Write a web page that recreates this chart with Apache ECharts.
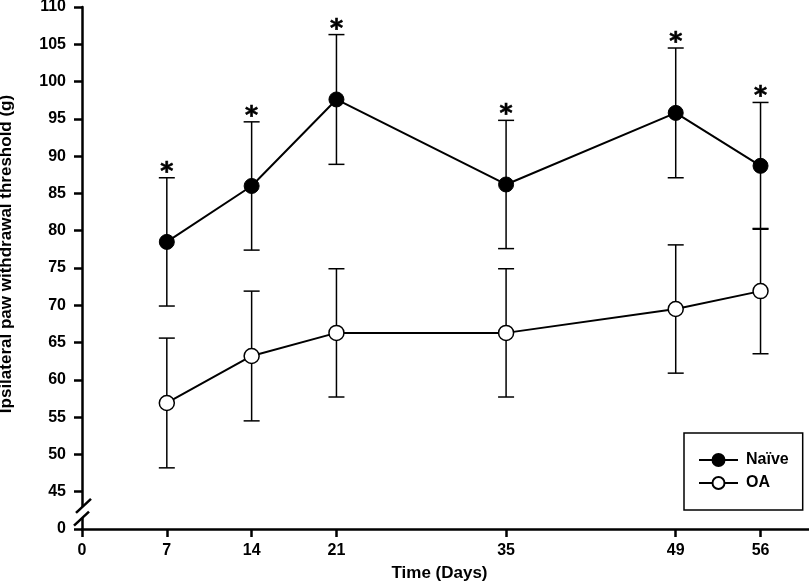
<!DOCTYPE html>
<html>
<head>
<meta charset="utf-8">
<script src="https://cdn.jsdelivr.net/npm/echarts@6/dist/echarts.min.js"></script>
<style>
    html, body { margin: 0; padding: 0; background: #fff; }
    #chart { width: 809px; height: 581px; }
</style>
</head>
<body>
<div id="chart"></div>
<script>
// values (g), mean +/- error
var days = [7, 14, 21, 35, 49, 56];
var naive = [78.5, 86.0, 97.6, 86.2, 95.8, 88.7];
var naiveErr = [8.6, 8.6, 8.7, 8.6, 8.7, 8.5];
var oa = [56.9, 63.2, 66.3, 66.3, 69.5, 71.9];
var oaErr = [8.7, 8.7, 8.6, 8.6, 8.6, 8.4];
var naiveSig = [1, 1, 1, 1, 1, 1];

var xTicks = [0, 7, 14, 21, 35, 49, 56];
var yBreakValue = 40;   // drawn as "0" below the axis break

var FONT = 'Liberation Sans, Arial, sans-serif';

function pairs(xs, ys) {
    return xs.map(function (x, i) { return [x, ys[i]]; });
}

function errorData(xs, ys, errs, sig) {
    return xs.map(function (x, i) {
        return [x, ys[i] - errs[i], ys[i] + errs[i], sig ? sig[i] : 0];
    });
}

function renderErrorBar(params, api) {
    var x = api.value(0);
    var top = api.coord([x, api.value(2)]);
    var bottom = api.coord([x, api.value(1)]);
    var half = 8;
    var style = { stroke: '#000', lineWidth: 1.5 };
    var children = [
        { type: 'line', shape: { x1: top[0], y1: top[1], x2: bottom[0], y2: bottom[1] }, style: style },
        { type: 'line', shape: { x1: top[0] - half, y1: top[1], x2: top[0] + half, y2: top[1] }, style: style },
        { type: 'line', shape: { x1: bottom[0] - half, y1: bottom[1], x2: bottom[0] + half, y2: bottom[1] }, style: style }
    ];
    if (api.value(3)) {
        children.push({
            type: 'text',
            style: {
                text: '*', x: top[0], y: top[1] + 7,
                align: 'center', verticalAlign: 'bottom',
                fill: '#000', stroke: '#000', lineWidth: 0.6,
                font: 'bold 25px DejaVu Sans'
            }
        });
    }
    return { type: 'group', children: children };
}

var axisLine = { show: true, onZero: false, lineStyle: { color: '#000', width: 2.5 } };
var axisTick = { show: true, inside: false, length: 8, lineStyle: { color: '#000', width: 2.5 } };
var labelStyle = { color: '#000', fontFamily: FONT, fontWeight: 'bold', fontSize: 16 };
var titleStyle = { color: '#000', fontFamily: FONT, fontWeight: 'bold', fontSize: 17 };

var chart = echarts.init(document.getElementById('chart'), null, { renderer: 'canvas' });

chart.setOption({
    animation: false,
    backgroundColor: '#fff',
    grid: { left: 82, right: 0, top: 7, bottom: 52, outerBoundsMode: 'none' },
    legend: {
        orient: 'vertical',
        left: 684, top: 433,
        padding: [19, 14, 19, 14],
        itemGap: 7,
        itemWidth: 39, itemHeight: 15,
        borderColor: '#000', borderWidth: 1.5,
        textStyle: Object.assign({ padding: [0, 0, 0, 3] }, labelStyle),
        data: ['Naïve', 'OA']
    },
    xAxis: {
        type: 'value',
        min: 0, max: 60,
        name: 'Time (Days)',
        nameLocation: 'middle',
        nameGap: 36,
        nameTextStyle: Object.assign({ padding: [0, 12, 0, 0] }, titleStyle),
        axisLine: axisLine,
        axisTick: Object.assign({ customValues: xTicks }, axisTick),
        axisLabel: Object.assign({ customValues: xTicks, margin: 14 }, labelStyle),
        splitLine: { show: false }
    },
    yAxis: {
        type: 'value',
        min: yBreakValue, max: 110, interval: 5,
        name: 'Ipsilateral paw withdrawal threshold (g)',
        nameLocation: 'middle',
        nameGap: 67,
        nameTextStyle: Object.assign({ padding: [0, 0, 0, 28] }, titleStyle),
        axisLine: axisLine,
        axisTick: axisTick,
        axisLabel: Object.assign({
            margin: 16,
            formatter: function (v) { return v === yBreakValue ? '0' : String(v); }
        }, labelStyle),
        splitLine: { show: false }
    },
    series: [
        {
            type: 'custom', name: 'naiveErr', z: 1,
            renderItem: renderErrorBar,
            encode: { x: 0, y: [1, 2] },
            data: errorData(days, naive, naiveErr, naiveSig)
        },
        {
            type: 'custom', name: 'oaErr', z: 1,
            renderItem: renderErrorBar,
            encode: { x: 0, y: [1, 2] },
            data: errorData(days, oa, oaErr)
        },
        {
            type: 'line', name: 'Naïve', z: 3,
            data: pairs(days, naive),
            symbol: 'circle', symbolSize: 15,
            lineStyle: { color: '#000', width: 2 },
            itemStyle: { color: '#000', borderColor: '#000', borderWidth: 1 }
        },
        {
            type: 'line', name: 'OA', z: 3,
            data: pairs(days, oa),
            symbol: 'circle', symbolSize: 15,
            lineStyle: { color: '#000', width: 2 },
            itemStyle: { color: '#fff', borderColor: '#000', borderWidth: 1.5 }
        }
    ]
});

// the "//" break on the y axis between 0 and 45
function drawBreak() {
    var a = chart.convertToPixel({ gridIndex: 0 }, [0, 43.1]);
    var b = chart.convertToPixel({ gridIndex: 0 }, [0, 41.4]);
    var dx = 7.5, dy = 7;
    var slash = { stroke: '#000', lineWidth: 2.5 };
    chart.setOption({
        graphic: [
            {
                type: 'polygon', z: 50,
                shape: { points: [
                    [a[0] + 1.5 - dx, a[1] + dy], [a[0] + 1.5 + dx, a[1] - dy],
                    [b[0] - 0.5 + dx, b[1] - dy], [b[0] - 0.5 - dx, b[1] + dy]
                ] },
                style: { fill: '#fff' }
            },
            {
                type: 'line', z: 51,
                shape: { x1: a[0] + 1.5 - dx, y1: a[1] + dy, x2: a[0] + 1.5 + dx, y2: a[1] - dy },
                style: slash
            },
            {
                type: 'line', z: 51,
                shape: { x1: b[0] - 0.5 - dx, y1: b[1] + dy, x2: b[0] - 0.5 + dx, y2: b[1] - dy },
                style: slash
            }
        ]
    });
}

drawBreak();
</script>
</body>
</html>
